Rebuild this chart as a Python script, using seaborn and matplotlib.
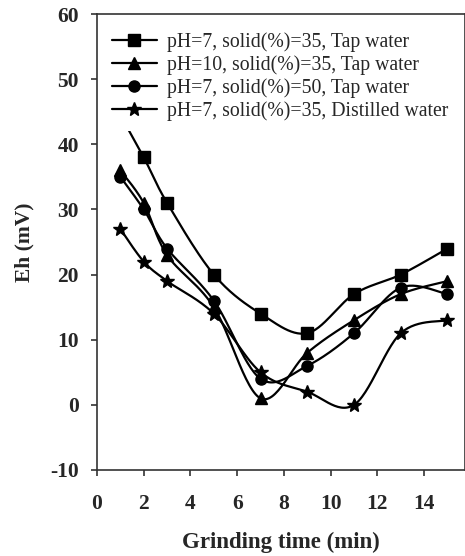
import numpy as np
import matplotlib
matplotlib.use('Agg')
import matplotlib.pyplot as plt
from matplotlib.lines import Line2D
import seaborn as sns

# data
time_min = [1, 2, 3, 5, 7, 9, 11, 13, 15]
eh_ph7_s35_tap = [44.5, 38, 31, 20, 14, 11, 17, 20, 24]
eh_ph10_s35_tap = [36, 31, 23, 15, 1, 8, 13, 17, 19]
eh_ph7_s50_tap = [35, 30, 24, 16, 4, 6, 11, 18, 17]
eh_ph7_s35_dist = [27, 22, 19, 14, 5, 2, 0, 11, 13]

labels = ['pH=7, solid(%)=35, Tap water',
          'pH=10, solid(%)=35, Tap water',
          'pH=7, solid(%)=50, Tap water',
          'pH=7, solid(%)=35, Distilled water']
markers = ['s', '^', 'o', '*']
msizes = [8, 8, 8, 10]


def smooth(x, y, n=30):
    # excel style smoothed line (catmull-rom through the points)
    p = np.column_stack([x, y]).astype(float)
    p = np.vstack([p[0], p, p[-1]])
    out = []
    for i in range(1, len(p) - 2):
        p0, p1, p2, p3 = p[i - 1], p[i], p[i + 1], p[i + 2]
        t = np.linspace(0, 1, n)[:, None]
        seg = 0.5 * ((2 * p1) + (-p0 + p2) * t + (2 * p0 - 5 * p1 + 4 * p2 - p3) * t ** 2
                     + (-p0 + 3 * p1 - 3 * p2 + p3) * t ** 3)
        out.append(seg)
    out = np.vstack(out)
    return out[:, 0], out[:, 1]


sns.set_theme(style='ticks')
plt.rcParams['font.family'] = ['Liberation Serif', 'DejaVu Serif']
plt.rcParams['axes.unicode_minus'] = False

fig = plt.figure(figsize=(4.65, 5.56), dpi=100)
ax = fig.add_axes([0.2086, 0.1547, 0.7914, 0.8201])

series = [eh_ph7_s35_tap, eh_ph10_s35_tap, eh_ph7_s50_tap, eh_ph7_s35_dist]
handles = []
for vals, lab, mk, ms in zip(series, labels, markers, msizes):
    sx, sy = smooth(time_min, vals)
    sns.lineplot(x=sx, y=sy, sort=False, estimator=None, color='black', linewidth=1.6, ax=ax)
    ax.plot(time_min, vals, linestyle='none', marker=mk, markersize=ms, color='black')
    handles.append(Line2D([], [], color='black', linewidth=1.6, marker=mk, markersize=ms, label=lab))

ax.set_xlim(0, 15.75)
ax.set_ylim(-10, 60)
ax.set_xticks(range(0, 15, 2))
ax.set_yticks(range(-10, 61, 10))
for s in ax.spines.values():
    s.set_color('#333333')
    s.set_linewidth(1.2)
ax.tick_params(direction='out', length=4, width=1.2, color='#333333', labelsize=15.5)
ax.tick_params(axis='x', pad=13)
ax.tick_params(axis='y', pad=9)
for t in ax.get_xticklabels() + ax.get_yticklabels():
    t.set_fontweight('bold')
ax.set_xlabel('Grinding time (min)', fontsize=16.5, fontweight='bold', labelpad=13)
ax.set_ylabel('Eh (mV)', fontsize=15.5, fontweight='bold', labelpad=11)

leg = ax.legend(handles=handles, loc='upper left', bbox_to_anchor=(-0.014, 1.004), fontsize=14.2,
                frameon=True, framealpha=1, edgecolor='white', handlelength=2.3,
                labelspacing=0.17, borderpad=0.5, handletextpad=0.5)
leg.get_frame().set_linewidth(0)

fig.savefig('out.png', dpi=100)
